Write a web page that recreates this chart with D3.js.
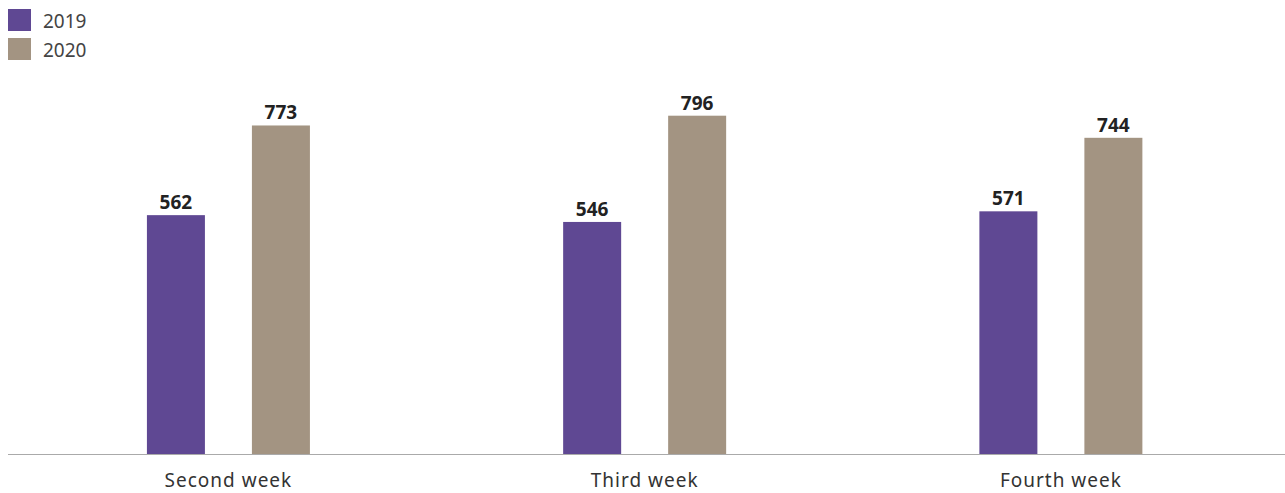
<!DOCTYPE html>
<html>
<head>
<meta charset="utf-8">
<script src="https://cdn.jsdelivr.net/npm/d3@7"></script>
<style>
  html, body { margin: 0; padding: 0; background: #fff; }
  svg { display: block; font-family: "Noto Sans", "Open Sans", sans-serif; }
</style>
</head>
<body>
<svg id="chart" width="1285" height="493"></svg>
<script>
const categories = ["Second week", "Third week", "Fourth week"];
const seriesNames = ["2019", "2020"];
const values2019 = [562, 546, 571];
const values2020 = [773, 796, 744];
const colors = ["#5f4893", "#a39482"];

const seriesValues = [values2019, values2020];
const data = categories.map((c, i) => ({
  category: c,
  values: seriesNames.map((s, j) => ({ series: s, value: seriesValues[j][i], idx: j }))
}));

const svg = d3.select("#chart");
const W = 1285, H = 493;
const baseline = 454;

const x0 = d3.scaleBand().domain(categories).range([20.3, 1269]).paddingInner(0).paddingOuter(0);
const x1 = d3.scaleBand().domain(seriesNames).range([-81.5, 81.5]).paddingInner(0.4476).paddingOuter(0);
const y = d3.scaleLinear().domain([0, 800]).range([baseline, 114]);
const color = d3.scaleOrdinal().domain(seriesNames).range(colors);

// bars
const groups = svg.append("g").selectAll("g")
  .data(data).join("g")
  .attr("transform", d => `translate(${x0(d.category) + x0.bandwidth() / 2},0)`);

groups.selectAll("rect")
  .data(d => d.values).join("rect")
  .attr("x", d => x1(d.series))
  .attr("y", d => y(d.value))
  .attr("width", x1.bandwidth())
  .attr("height", d => baseline - y(d.value))
  .attr("fill", d => color(d.series));

groups.selectAll("text.val")
  .data(d => d.values).join("text")
  .attr("class", "val")
  .attr("x", d => x1(d.series) + x1.bandwidth() / 2)
  .attr("y", d => y(d.value) - 6)
  .attr("text-anchor", "middle")
  .attr("font-size", 19)
  .attr("font-weight", "bold")
  .attr("fill", "#222")
  .text(d => d.value);

// x axis
const xAxis = d3.axisBottom(x0).tickSize(0).tickPadding(0);
const gx = svg.append("g").attr("transform", `translate(0,${baseline})`).call(xAxis);
gx.select(".domain").remove();
gx.selectAll("text")
  .attr("dy", null)
  .attr("y", 33)
  .attr("font-size", 19)
  .attr("letter-spacing", "1px")
  .attr("fill", "#333")
  .attr("font-family", "\"Noto Sans\", sans-serif");
svg.append("line")
  .attr("x1", 8).attr("x2", W)
  .attr("y1", baseline + 0.5).attr("y2", baseline + 0.5)
  .attr("stroke", "#aaa").attr("stroke-width", 1.2);

// legend
const legend = svg.append("g").selectAll("g")
  .data(seriesNames).join("g")
  .attr("transform", (d, i) => `translate(8,${9 + i * 29})`);
legend.append("rect")
  .attr("width", 23).attr("height", 22)
  .attr("fill", d => color(d));
legend.append("text")
  .attr("x", 35).attr("y", 19)
  .attr("font-size", 19)
  .attr("fill", "#444")
  .text(d => d);
</script>
</body>
</html>
